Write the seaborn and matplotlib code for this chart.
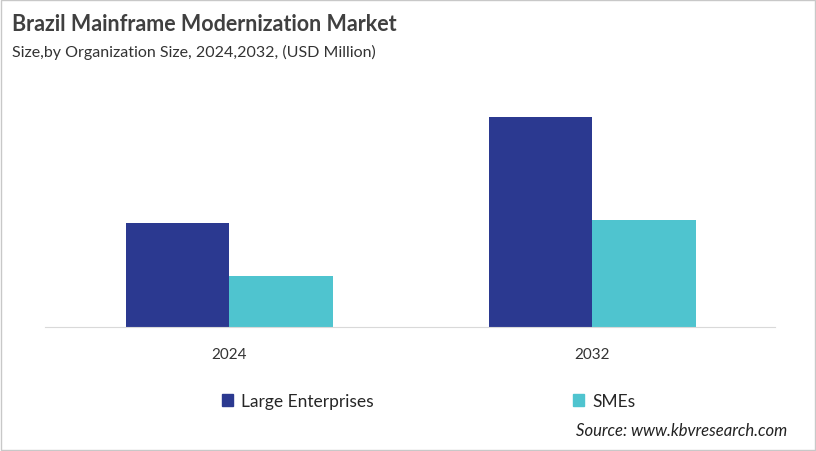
import pandas as pd
import matplotlib.pyplot as plt
import seaborn as sns
from matplotlib.patches import Rectangle

# Data (USD Million, approximate)
years = ['2024', '2032']
large_enterprises = [104, 210]
smes = [51, 107]
segments = ['Large Enterprises', 'SMEs']
colors = ['#2B3990', '#4FC4CF']

df = pd.DataFrame({
    'Year': years * 2,
    'Segment': [segments[0]] * 2 + [segments[1]] * 2,
    'Value': large_enterprises + smes,
})

sns.set_style('white')
plt.rcParams['font.family'] = ['Lato', 'DejaVu Sans']

fig = plt.figure(figsize=(8.16, 4.52), dpi=100)
ax = fig.add_axes([0.055, 0.274, 0.895, 0.526])

sns.barplot(data=df, x='Year', y='Value', hue='Segment', palette=colors,
            width=0.57, saturation=1, linewidth=0, ax=ax, legend=False)

ax.set_xlim(-0.507, 1.504)
ax.set_ylim(0, 238)
ax.set_xlabel('')
ax.set_ylabel('')
ax.set_yticks([])
ax.tick_params(axis='x', length=0, labelsize=11, pad=14, colors='#333333')
for s in ['top', 'right', 'left']:
    ax.spines[s].set_visible(False)
ax.spines['bottom'].set_color('#d9d9d9')

# Titles
fig.text(0.015, 0.945, 'Brazil Mainframe Modernization Market', fontsize=15.5,
         fontweight='bold', color='#404040', va='center')
fig.text(0.015, 0.885, 'Size,by Organization Size, 2024,2032, (USD Million)',
         fontsize=11.5, color='#333333', va='center')

# Legend
handles = [Rectangle((0, 0), 1, 1, color=c) for c in colors]
fig.legend(handles, segments, loc='center', bbox_to_anchor=(0.525, 0.11),
           ncol=2, frameon=False, fontsize=12.5, handlelength=0.65, handleheight=0.65,
           handletextpad=0.45, columnspacing=11.5)

fig.text(0.965, 0.046, 'Source: www.kbvresearch.com', fontsize=12,
         style='italic', ha='right', va='center', color='#222222')

# light border around the image
fig.patches.append(Rectangle((0.001, 0.002), 0.998, 0.996, transform=fig.transFigure,
                             fill=False, edgecolor='#c8c8c8', linewidth=1))

plt.savefig('out.png', dpi=100)
